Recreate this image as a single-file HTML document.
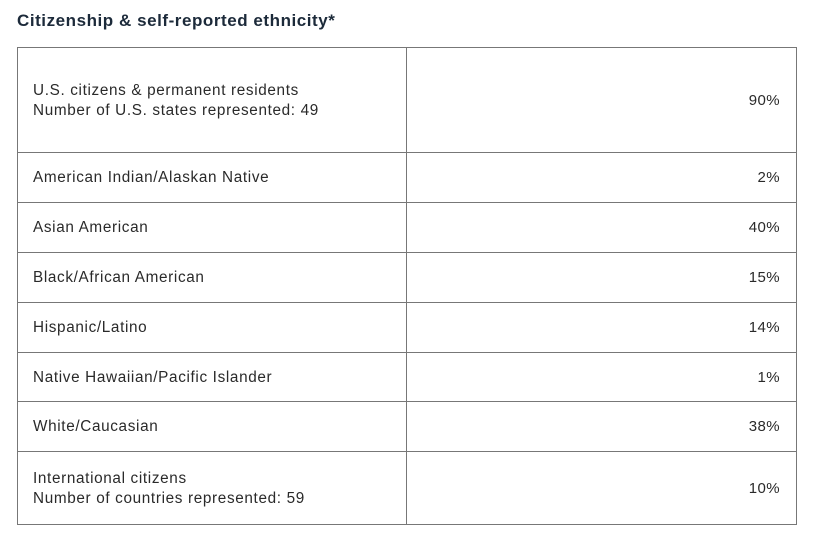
<!DOCTYPE html>
<html><head><style>
body{margin:0;width:814px;height:536px;background:#fff;font-family:"Liberation Sans",sans-serif;position:relative;overflow:hidden}
h1{position:absolute;left:17px;top:11px;margin:0;font-size:17px;font-weight:bold;color:#1c2a3a;letter-spacing:0.55px}
.r{position:absolute;left:17px;width:780px;border:1px solid #777;box-sizing:border-box}
.c1{position:absolute;left:0;top:0;bottom:0;width:389px;box-sizing:border-box;border-right:1px solid #777;display:flex;align-items:center;padding-left:15px;padding-top:2px;font-size:15.3px;letter-spacing:0.65px;color:#2a2a2a;line-height:20px}
.c2{position:absolute;right:16px;top:1px;bottom:0;display:flex;align-items:center;font-size:15px;letter-spacing:0.4px;color:#2a2a2a}
</style></head><body>
<h1>Citizenship &amp; self-reported ethnicity*</h1>
<div class="r" style="top:47px;height:106px"><div class="c1">U.S. citizens &amp; permanent residents<br>Number of U.S. states represented: 49</div><div class="c2">90%</div></div>
<div class="r" style="top:152px;height:51px;border-top:none"><div class="c1">American Indian/Alaskan Native</div><div class="c2">2%</div></div>
<div class="r" style="top:202px;height:51px;border-top:none"><div class="c1">Asian American</div><div class="c2">40%</div></div>
<div class="r" style="top:252px;height:51px;border-top:none"><div class="c1">Black/African American</div><div class="c2">15%</div></div>
<div class="r" style="top:302px;height:51px;border-top:none"><div class="c1">Hispanic/Latino</div><div class="c2">14%</div></div>
<div class="r" style="top:352px;height:50px;border-top:none"><div class="c1">Native Hawaiian/Pacific Islander</div><div class="c2">1%</div></div>
<div class="r" style="top:401px;height:51px;border-top:none"><div class="c1">White/Caucasian</div><div class="c2">38%</div></div>
<div class="r" style="top:451px;height:74px;border-top:none"><div class="c1">International citizens<br>Number of countries represented: 59</div><div class="c2">10%</div></div>
</body></html>
